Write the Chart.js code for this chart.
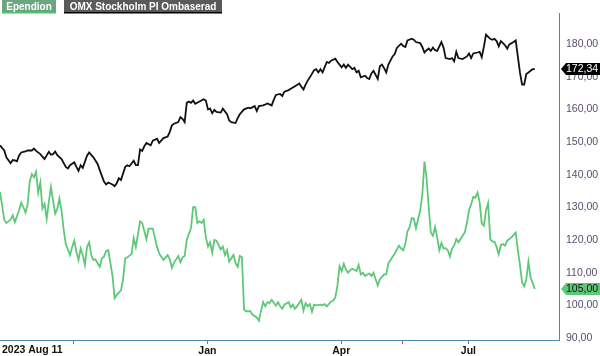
<!DOCTYPE html>
<html><head><meta charset="utf-8">
<script src="https://cdn.jsdelivr.net/npm/chart.js@4.4.0/dist/chart.umd.min.js"></script>
<style>html,body{margin:0;padding:0;background:#fff}#wrap{width:600px;height:356px;position:relative}</style>
</head><body><div id="wrap"><canvas id="c" width="600" height="356"></canvas></div>
<script>
const seriesNames = ['Ependion', 'OMX Stockholm PI Ombaserad'];
const startLabel = '2023 Aug 11';

// trading-day index since 2023-08-11 and index value
const omxIdx = [0,2,3,5,6,7,8,9,10,12,13,15,16,17,19,20,21,23,24,25,26,27,29,31,32,33,35,36,37,38,39,41,42,44,46,47,49,50,51,53,54,55,56,57,59,60,61,63,64,65,66,67,68,69,71,72,74,75,77,79,80,81,82,84,85,86,87,88,89,90,91,92,94,96,97,98,99,100,101,102,104,105,107,108,109,111,112,113,115,117,118,120,121,122,124,125,126,128,129,130,132,133,134,136,137,139,141,142,143,144,145,146,148,149,150,151,152,154,155,156,158,159,160,161,162,163,164,166,167,168,169,170,172,173,174,175,176,178,179,180,181,182,183,185,186,187,189,190,191,192,194,195,196,198,199,200,201,202,203,204,205,206,208,209,210,212,213,214,215,216,218,220,221,222,223,225,226,227,228,229,231,232,233,234,235,236,237,238,239,240,242,243,244,245,246,247,248,249,250,251,252];
const omxVals = [149.0,147.4,145.3,143.5,144.5,144.4,144.1,145.9,146.8,147.1,147.4,147.4,148.0,147.3,146.3,145.5,144.8,147.0,146.1,146.3,147.1,146.0,144.8,142.4,141.9,142.9,143.8,142.4,141.2,142.9,142.1,145.8,146.8,145.3,143.3,141.4,137.9,137.0,137.6,137.0,136.5,137.4,138.9,138.4,142.4,142.9,142.6,144.3,142.9,142.9,147.7,147.3,148.7,149.7,149.0,150.4,151.0,149.7,151.2,151.7,153.1,155.1,155.6,156.1,157.6,157.1,156.1,162.0,162.4,162.0,162.7,161.7,162.4,163.1,162.7,160.0,160.2,158.8,159.8,159.2,159.0,160.2,158.5,156.6,156.1,155.8,157.3,158.5,160.0,160.5,160.3,161.0,159.5,161.0,161.2,161.5,161.8,161.2,162.9,164.4,164.7,164.1,165.4,165.9,166.3,167.1,167.9,166.9,166.1,167.6,168.8,169.8,172.0,172.3,171.3,172.3,171.3,174.5,174.2,174.9,175.5,174.5,173.7,172.9,173.7,172.7,173.7,172.3,172.7,171.3,171.8,169.8,170.3,169.6,169.3,171.0,171.8,169.3,173.2,173.7,172.6,171.3,173.7,176.2,176.9,178.8,180.1,179.4,179.1,181.1,181.6,181.3,180.6,180.3,179.1,177.4,178.1,178.6,177.9,178.9,178.1,177.9,180.6,178.9,175.7,175.4,175.7,174.7,177.6,175.7,175.4,176.2,177.1,175.7,177.1,177.4,177.6,176.0,179.1,182.9,181.6,181.3,181.6,180.9,179.3,180.9,180.3,179.6,178.6,179.9,180.6,181.1,176.2,171.3,167.6,167.6,170.8,171.3,171.8,172.3,172.34];

const epIdx = [0,1,2,3,4,5,6,7,9,10,11,12,13,14,15,16,17,18,19,20,21,22,23,24,25,26,27,28,29,30,31,33,34,35,36,37,38,39,40,41,42,43,44,45,46,47,48,49,50,51,53,54,55,57,58,59,60,62,63,64,66,67,69,70,72,74,75,77,79,80,81,82,84,85,86,87,88,90,91,92,93,94,95,96,97,98,99,100,101,102,104,105,106,107,108,110,111,112,113,114,115,116,118,119,121,122,123,124,125,126,127,128,130,131,132,133,134,136,137,138,139,140,142,143,144,145,146,147,148,149,151,152,153,154,156,157,158,159,160,161,162,163,164,165,166,168,169,170,171,172,174,175,176,177,178,179,181,182,183,185,186,188,189,190,191,192,193,194,195,196,198,199,200,201,202,203,204,205,206,207,208,209,210,211,212,213,214,215,216,218,219,220,221,222,223,224,225,226,227,228,229,230,231,232,233,234,235,236,237,238,239,241,243,244,245,246,247,248,249,250,251,252];
const epVals = [134.7,130.6,126.2,125.2,125.7,126.2,127.6,125.5,129.1,131.4,130.1,128.4,130.8,137.9,140.2,139.2,140.9,134.5,137.6,129.6,131.1,126.5,131.6,136.2,132.1,128.1,129.6,132.7,129.1,123.2,118.8,115.4,117.9,119.8,116.4,113.9,117.4,115.4,112.4,117.9,119.3,115.4,113.9,114.1,112.9,111.8,114.4,114.9,116.6,116.9,109.1,102.2,103.2,104.6,108.0,114.4,114.7,115.7,120.6,117.9,125.7,125.2,120.3,123.5,123.5,117.9,115.9,113.9,115.4,114.1,111.5,113.1,115.1,113.2,114.7,115.1,120.0,123.7,130.1,130.1,125.2,125.7,125.2,126.2,120.8,118.0,119.3,116.1,120.0,119.8,117.1,118.0,115.4,116.9,113.4,115.4,112.9,111.8,115.1,114.7,98.7,98.2,98.2,97.1,96.3,95.3,98.4,101.0,99.7,101.0,100.7,101.7,99.9,101.0,99.7,99.0,100.2,101.0,99.4,100.2,99.0,99.7,101.7,98.4,100.7,99.7,100.4,98.0,100.2,100.0,100.2,100.0,100.4,99.7,101.2,101.4,102.4,106.1,112.0,110.5,112.7,111.0,110.0,110.8,111.2,110.5,112.4,109.5,110.0,109.0,109.8,109.0,110.0,108.0,106.1,108.0,109.5,109.5,112.9,114.9,115.9,118.3,117.4,116.9,118.8,122.7,123.9,126.7,126.5,123.6,129.1,134.0,144.0,138.9,130.1,122.3,121.3,124.0,120.8,116.9,119.1,117.4,117.5,116.9,115.0,117.4,118.3,120.3,119.3,121.3,122.3,125.2,129.1,130.9,133.2,133.0,134.5,131.6,125.0,124.4,129.0,131.3,120.3,119.5,119.5,117.9,115.6,118.5,118.8,118.3,119.8,120.8,122.3,116.9,112.4,107.1,105.8,108.0,113.4,108.5,106.8,105.0];

const xTickPositions = [34.8, 97.7, 160.8, 189.8, 220.7];
const xTickLabels = ['', 'Jan', 'Apr', '', 'Jul'];
const markerTick = 189.8;
const yTicks = [90, 100, 110, 120, 130, 140, 150, 160, 170, 180];
const xMax = 263.4, yMin = 89.4, yMax = 189.4;

const FONT = 'Arial, "Liberation Sans", sans-serif';
const AXIS = '#4f86ad';
const GREEN = '#5ec878';
const fmt = v => v.toFixed(2).replace('.', ',');

const toPts = (xs, ys) => xs.map((x, i) => ({ x: x, y: ys[i] }));

const overlay = {
  id: 'overlay',
  afterDraw(chart) {
    const ctx = chart.ctx;
    ctx.save();
    // legend
    ctx.font = 'bold 10px ' + FONT;
    ctx.textBaseline = 'alphabetic';
    ctx.textAlign = 'left';
    const boxes = [
      { x: 2, w: 54, bg: '#6ca580', ul: '#4fc46c', text: seriesNames[0] },
      { x: 64, w: 158, bg: '#5a5a5a', ul: '#000000', text: seriesNames[1] }
    ];
    boxes.forEach(b => {
      ctx.fillStyle = b.bg;
      ctx.fillRect(b.x, 0, b.w, 12);
      ctx.fillStyle = b.ul;
      ctx.fillRect(b.x, 12, b.w, 1.5);
      ctx.fillStyle = '#ffffff';
      const tw = ctx.measureText(b.text).width;
      ctx.fillText(b.text, b.x + (b.w - tw) / 2, 10);
    });
    // start date label
    const xs = chart.scales.x;
    ctx.font = 'bold 10.5px ' + FONT;
    ctx.fillStyle = '#111';
    ctx.textBaseline = 'top';
    ctx.fillText(startLabel, 2, xs.top + 5);
    // last value tags
    const ys = chart.scales.y;
    const tags = [
      { v: omxVals[omxVals.length - 1], bg: '#000000', fg: '#ffffff' },
      { v: epVals[epVals.length - 1], bg: GREEN, fg: '#111111' }
    ];
    ctx.font = '10.5px ' + FONT;
    ctx.textBaseline = 'middle';
    tags.forEach(t => {
      const y = ys.getPixelForValue(t.v);
      const x0 = ys.left + 2;
      ctx.beginPath();
      ctx.moveTo(x0, y);
      ctx.lineTo(x0 + 5, y - 6);
      ctx.lineTo(600, y - 6);
      ctx.lineTo(600, y + 6);
      ctx.lineTo(x0 + 5, y + 6);
      ctx.closePath();
      ctx.fillStyle = t.bg;
      ctx.fill();
      ctx.fillStyle = t.fg;
      ctx.fillText(fmt(t.v), x0 + 5, y + 0.5);
    });
    ctx.restore();
  }
};

new Chart(document.getElementById('c'), {
  type: 'line',
  data: {
    datasets: [
      { label: seriesNames[0], data: toPts(epIdx, epVals), borderColor: GREEN, borderWidth: 1.8, pointRadius: 0, tension: 0, fill: false },
      { label: seriesNames[1], data: toPts(omxIdx, omxVals), borderColor: '#111111', borderWidth: 1.8, pointRadius: 0, tension: 0, fill: false }
    ]
  },
  options: {
    responsive: false,
    animation: false,
    devicePixelRatio: 1,
    layout: { padding: 0 },
    plugins: { legend: { display: false }, tooltip: { enabled: false } },
    scales: {
      x: {
        type: 'linear', position: 'bottom', min: 0, max: xMax,
        afterFit(s) { s.height = 16; },
        afterBuildTicks(s) { s.ticks = xTickPositions.map(v => ({ value: v })); },
        ticks: {
          autoSkip: false, maxRotation: 0, padding: 1, color: '#111',
          font: { family: FONT, size: 10.5, weight: 'bold' },
          callback: (v, i) => xTickLabels[i]
        },
        grid: {
          display: true, drawOnChartArea: false, drawTicks: true, tickLength: 4, lineWidth: 1,
          color: c => (c.tick && c.tick.value === markerTick) ? '#e8474f' : AXIS
        },
        border: { display: true, color: AXIS, width: 1 }
      },
      y: {
        type: 'linear', position: 'right', min: yMin, max: yMax,
        afterFit(s) { s.width = 41; },
        afterBuildTicks(s) { s.ticks = yTicks.map(v => ({ value: v })); },
        ticks: {
          padding: 7, color: '#5b4b6e',
          font: { family: FONT, size: 10.5 },
          callback: v => fmt(v)
        },
        grid: { display: false, drawTicks: false },
        border: { display: true, color: AXIS, width: 1 }
      }
    }
  },
  plugins: [overlay]
});
</script>
</body></html>
